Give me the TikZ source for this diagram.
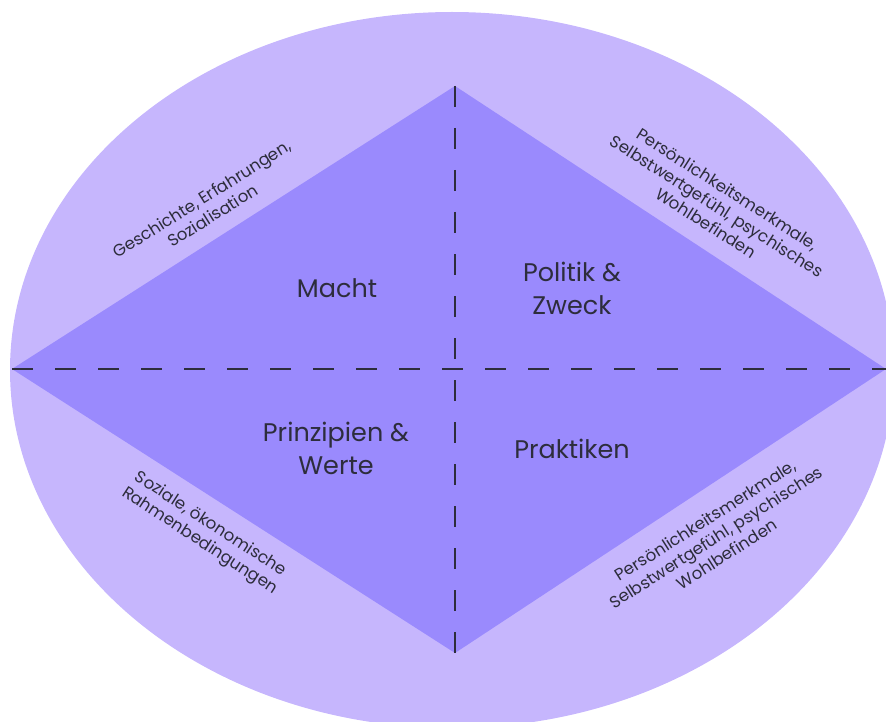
\documentclass[tikz,border=0pt]{standalone}
\usepackage{fontspec}
\setmainfont{Poppins}
\definecolor{outerfill}{RGB}{198,182,253}
\definecolor{innerfill}{RGB}{154,138,253}
\definecolor{ink}{RGB}{45,45,60}
\begin{document}
\begin{tikzpicture}[x=1pt,y=-1pt,
  axisline/.style={draw=ink, line width=2pt},
  quadlabel/.style={font=\fontsize{25.5}{33}\selectfont, text=ink, align=center, inner sep=0pt},
  sidelabel/.style={font=\fontsize{16.6}{20}\selectfont, text=ink, align=center, inner sep=0pt}]
\useasboundingbox (0,0) rectangle (886,722);

% outer ellipse and inner diamond
\fill[outerfill] (452,370) ellipse [x radius=442pt, y radius=358pt];
\coordinate (T) at (455,86);
\coordinate (R) at (886,369);
\coordinate (B) at (455,653);
\coordinate (L) at (12,369);
\fill[innerfill] (T) -- (R) -- (B) -- (L) -- cycle;

% dashed axes
\draw[axisline, dash pattern=on 21pt off 22pt] (L) -- (R);
\draw[axisline, dash pattern=on 21pt off 21pt] (T) -- (B);

% quadrant labels
\node[quadlabel] (macht) at (337,288) {Macht};
\node[quadlabel] (politik) at (572,288) {Politik \&\\Zweck};
\node[quadlabel] (prinzipien) at (336,448) {Prinzipien \&\\Werte};
\node[quadlabel] (praktiken) at (572,449) {Praktiken};

% labels along the diamond edges
\node[sidelabel, rotate=32] (geschichte) at (207,207) {Geschichte, Erfahrungen,\\Sozialisation};
\node[sidelabel, rotate=-32.5] (persoenlichoben) at (717,206) {Persönlichkeitsmerkmale,\\Selbstwertgefühl, psychisches\\Wohlbefinden};
\node[sidelabel, rotate=-33] (soziale) at (205,533) {Soziale, ökonomische\\Rahmenbedingungen};
\node[sidelabel, rotate=32.5] (persoenlichunten) at (716,537) {Persönlichkeitsmerkmale,\\Selbstwertgefühl, psychisches\\Wohlbefinden};
\end{tikzpicture}
\end{document}
